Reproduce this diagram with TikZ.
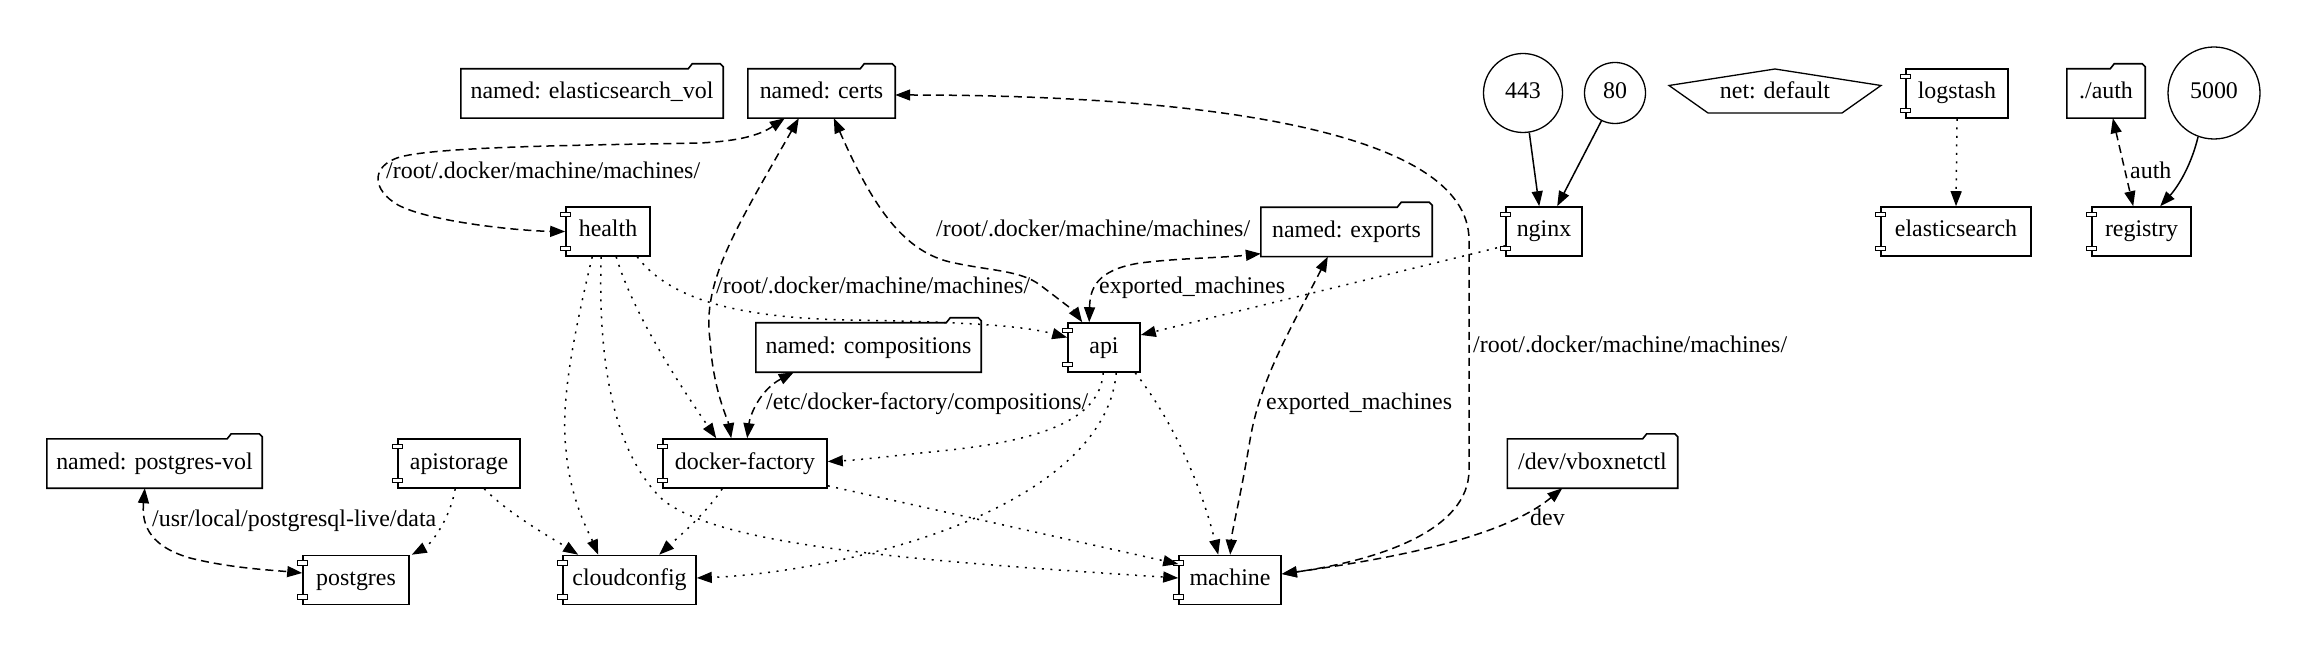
\documentclass[tikz,border=0pt]{standalone}
\usepackage{fontspec}
\setmainfont{Liberation Serif}
\usetikzlibrary{arrows.meta,calc}
\begin{document}
\begin{tikzpicture}[x=1pt,y=-1pt,
  every node/.style={font=\rmfamily\fontsize{23.9}{28}\selectfont, inner sep=0pt, text height=16pt, text depth=5pt},
  box/.style={draw, line width=1.6pt, rectangle, minimum height=49pt},
  folder/.style={rectangle, minimum height=49pt},
  port/.style={draw, fill=white, line width=1.2pt},
  circ/.style={draw, circle, line width=1.3pt},
  lbl/.style={anchor=west},
  dep/.style={-{Triangle[length=15pt,width=11pt]}, line width=1.5pt, dash pattern=on 2pt off 6.5pt},
  vol/.style={{Triangle[length=15pt,width=11pt]}-{Triangle[length=15pt,width=11pt]}, line width=1.5pt, dash pattern=on 8pt off 5pt},
  link/.style={-{Triangle[length=15pt,width=11pt]}, line width=1.5pt},
]
\useasboundingbox (0,0) rectangle (2308,652);

% folders
\node[folder, minimum width=262pt] (esvol) at (592,93.5) {named: elasticsearch\_vol};
\node[folder, minimum width=147pt] (certs) at (821.5,93.5) {named: certs};
\node[folder, minimum width=225pt] (compositions) at (868.5,347.5) {named: compositions};
\node[folder, minimum width=171pt] (exports) at (1346.5,232) {named: exports};
\node[folder, minimum width=215pt] (pgvol) at (154.5,463.5) {named: postgres-vol};
\node[folder, minimum width=170pt] (vbox) at (1592.5,463.5) {/dev/vboxnetctl};
\node[folder, minimum width=78pt] (auth) at (2106,93.5) {./auth};
\foreach \n in {esvol,certs,compositions,exports,pgvol,vbox,auth}{
  \draw[line width=1.6pt, line join=miter] (\n.south west) -- (\n.north west) -- ($(\n.north east)+(-35,0)$) -- ($(\n.north east)+(-31,-5)$) -- ($(\n.north east)+(-3,-5)$) -- ($(\n.north east)+(0,-2)$) -- (\n.south east) -- cycle;
}

% components
\node[box, minimum width=84pt] (health) at (608,231.5) {health};
\node[box, minimum width=72pt] (api) at (1104,347.5) {api};
\node[box, minimum width=76pt] (nginx) at (1544,231.5) {nginx};
\node[box, minimum width=102pt] (logstash) at (1957,93.5) {logstash};
\node[box, minimum width=150pt] (elasticsearch) at (1956,231.5) {elasticsearch};
\node[box, minimum width=99pt] (registry) at (2141.5,231.5) {registry};
\node[box, minimum width=122pt] (apistorage) at (459,463.5) {apistorage};
\node[box, minimum width=164pt] (dockerfactory) at (745,463.5) {docker-factory};
\node[box, minimum width=106pt] (postgres) at (356,580) {postgres};
\node[box, minimum width=133pt] (cloudconfig) at (629.5,580) {cloudconfig};
\node[box, minimum width=102pt] (machine) at (1230,580) {machine};
\foreach \n in {health,api,nginx,logstash,elasticsearch,registry,apistorage,dockerfactory,postgres,cloudconfig,machine}{
  \draw[port] ($(\n.north west)+(-5,6)$) rectangle ($(\n.north west)+(5,10.5)$);
  \draw[port] ($(\n.south west)+(-5,-6)$) rectangle ($(\n.south west)+(5,-10.5)$);
}

% ports and network
\node[circ, minimum size=79pt] (p443) at (1523,93) {443};
\node[circ, minimum size=61pt] (p80) at (1615,93) {80};
\node[circ, minimum size=92pt] (p5000) at (2214,93) {5000};
\node (net) at (1775,93) {net: default};
\draw[line width=1.3pt] ($(net.center)+(0,-24)$) -- ($(net.center)+(-106,-7.5)$) -- ($(net.center)+(-67,20)$) -- ($(net.center)+(67,20)$) -- ($(net.center)+(106,-7.5)$) -- cycle;

% labels
\node[lbl] (l1) at (386,173) {/root/.docker/machine/machines/};
\node[lbl] (l2) at (716,288) {/root/.docker/machine/machines/};
\node[lbl] (l3) at (936,231) {/root/.docker/machine/machines/};
\node[lbl] (l4) at (1473,347) {/root/.docker/machine/machines/};
\node[lbl] (l5) at (1099,288) {exported\_machines};
\node[lbl] (l6) at (1266,404) {exported\_machines};
\node[lbl] (l7) at (766,404) {/etc/docker-factory/compositions/};
\node[lbl] (l8) at (152,521) {/usr/local/postgresql-live/data};
\node[lbl] (l9) at (1530,520) {dev};
\node[lbl] (l10) at (2130,173) {auth};

% volume edges (dashed)
\draw[vol] ($(certs.south west)+(37,0)$) .. controls (760,135) and (740,141) .. (700,143) .. controls (600,145) and (440,146) .. (400,157) .. controls (370,166) and (372,190) .. (398,205) .. controls (430,222) and (520,231) .. (health.west);
\draw[vol] ($(certs.south west)+(51,0)$) .. controls (735,230) and (702,282) .. (710,340) .. controls (713,390) and (728,420) .. ($(dockerfactory.north west)+(69,0)$);
\draw[vol] ($(certs.south west)+(86,0)$) .. controls (870,200) and (900,250) .. (950,262) .. controls (990,271) and (1020,270) .. (1040,285) .. controls (1060,300) and (1075,312) .. ($(api.north west)+(15,0)$);
\draw[vol] ($(api.north west)+(22,0)$) .. controls (1090,290) and (1095,270) .. (1140,263) .. controls (1180,258) and (1220,258) .. ($(exports.south west)+(0,-3)$);
\draw[vol] ($(certs.east)+(0,1.5)$) .. controls (1200,95) and (1469,130) .. (1469,240) -- (1469,470) .. controls (1469,530) and (1380,560) .. ($(machine.east)+(0,-6)$);
\draw[vol] ($(exports.south west)+(67,0)$) .. controls (1290,330) and (1260,380) .. (1250,440) .. controls (1240,500) and (1232,530) .. ($(machine.north west)+(52,0)$);
\draw[vol] ($(compositions.south west)+(38,0)$) .. controls (760,390) and (750,415) .. ($(dockerfactory.north west)+(85,0)$);
\draw[vol] ($(pgvol.south west)+(98,0)$) .. controls (142,520) and (145,545) .. (190,558) .. controls (230,568) and (270,570) .. ($(postgres.west)+(0,-7)$);
\draw[vol] ($(machine.east)+(0,-6)$) .. controls (1380,560) and (1500,540) .. ($(vbox.south west)+(55,0)$);
\draw[vol] ($(auth.south west)+(46,0)$) -- ($(registry.north west)+(42,0)$);

% dependency edges (dotted)
\draw[dep] ($(nginx.south west)+(0,-11)$) -- ($(api.east)+(0,-12.5)$);
\draw[dep] ($(health.south west)+(72,0)$) .. controls (670,300) and (740,318) .. (850,320) .. controls (960,322) and (1020,325) .. ($(api.west)+(0,-10)$);
\draw[dep] ($(health.south west)+(51,0)$) .. controls (635,320) and (690,400) .. ($(dockerfactory.north west)+(54,0)$);
\draw[dep] ($(health.south west)+(27,0)$) .. controls (575,330) and (560,400) .. (566,450) .. controls (570,500) and (590,535) .. ($(cloudconfig.north west)+(36,0)$);
\draw[dep] ($(health.south west)+(36,0)$) .. controls (598,350) and (610,450) .. (663,500) .. controls (720,545) and (900,560) .. ($(machine.west)+(0,-2)$);
\draw[dep] ($(api.south west)+(36,0)$) .. controls (1100,420) and (1040,440) .. (950,450) .. controls (900,455) and (860,460) .. ($(dockerfactory.east)+(0,-2)$);
\draw[dep] ($(api.south west)+(49,0)$) .. controls (1110,450) and (1020,510) .. (900,545) .. controls (820,568) and (750,576) .. ($(cloudconfig.east)+(0,-2)$);
\draw[dep] ($(api.south west)+(68,0)$) .. controls (1180,430) and (1205,500) .. ($(machine.north west)+(40,0)$);
\draw[dep] ($(dockerfactory.south west)+(60,0)$) .. controls (705,515) and (675,540) .. ($(cloudconfig.north west)+(97,0)$);
\draw[dep] ($(dockerfactory.south east)+(0,-3)$) -- ($(machine.west)+(0,-16)$);
\draw[dep] ($(apistorage.south west)+(58,0)$) .. controls (450,520) and (430,545) .. ($(postgres.north east)+(2,0)$);
\draw[dep] ($(apistorage.south west)+(87,0)$) .. controls (510,515) and (555,540) .. ($(cloudconfig.north west)+(16,0)$);
\draw[dep] (logstash.south) -- (elasticsearch.north);

% port links (solid)
\draw[link] (p443.-81) -- ($(nginx.north west)+(34,0)$);
\draw[link] (p80.-116) -- ($(nginx.north west)+(52,0)$);
\draw[link] (p5000.-110) .. controls (2190,170) and (2175,190) .. ($(registry.north west)+(69,0)$);
\end{tikzpicture}
\end{document}
